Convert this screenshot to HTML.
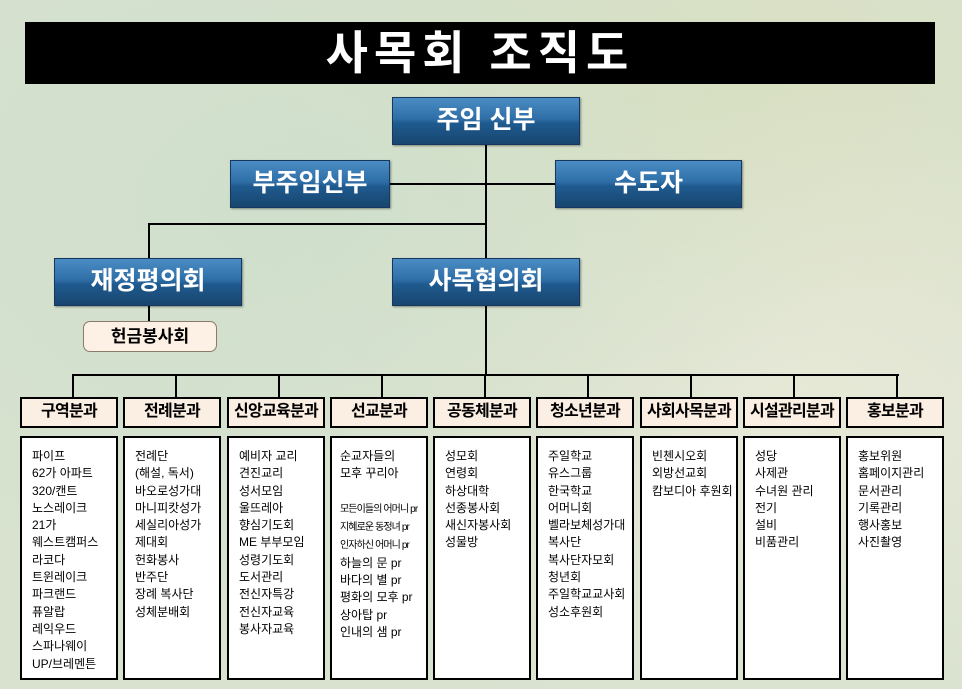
<!DOCTYPE html>
<html><head><meta charset="utf-8"><style>
*{margin:0;padding:0;box-sizing:border-box}
body{width:962px;height:689px;overflow:hidden;position:relative;font-family:"Liberation Sans","Noto Sans CJK KR","NanumGothic",sans-serif;
background:radial-gradient(ellipse at 30% 30%,#cfdfcc 0%,transparent 60%),radial-gradient(ellipse at 80% 60%,#e8e9d8 0%,transparent 55%),radial-gradient(ellipse at 70% 20%,#dadfbf 0%,transparent 50%),#d8e2cf;}
.title{position:absolute;left:25px;top:22px;width:910px;height:62px;background:#000;color:#fff;font-size:46px;font-weight:bold;text-align:center;line-height:62px;letter-spacing:6px}
.bb{position:absolute;height:48px;border:1.5px solid #17375e;background:linear-gradient(to bottom,#4a8cc4 0%,#2f6fa8 45%,#1f5a8f 55%,#17466f 100%);color:#fff;font-weight:bold;font-size:25px;text-align:center;line-height:45px;box-shadow:1px 1px 2px rgba(0,0,0,.4)}
.ln{position:absolute;background:#000}
.hd{position:absolute;top:397px;width:98px;height:31px;border:2.5px solid #000;background:#fbeee2;font-weight:bold;font-size:16px;text-align:center;line-height:26px;white-space:nowrap;letter-spacing:-0.7px;overflow:hidden}
.bx{position:absolute;top:436px;width:98px;height:244px;border:2px solid #000;background:#fff;font-size:12px;line-height:17.3px;padding:10px 0 0 10px;white-space:nowrap;overflow:hidden}
.sm{font-size:10px;letter-spacing:-0.9px}
</style></head><body>
<div class="title">사목회 조직도</div>
<div class="ln" style="left:485px;top:145px;width:2px;height:113px"></div>
<div class="ln" style="left:390px;top:183px;width:165px;height:2px"></div>
<div class="ln" style="left:148px;top:223px;width:339px;height:2px"></div>
<div class="ln" style="left:148px;top:223px;width:2px;height:35px"></div>
<div class="ln" style="left:148px;top:306px;width:2px;height:15px"></div>
<div class="ln" style="left:485px;top:306px;width:2px;height:70px"></div>
<div class="ln" style="left:72px;top:374px;width:827px;height:2px"></div>
<div class="bb" style="left:392px;top:97px;width:188px">주임 신부</div>
<div class="bb" style="left:230px;top:160px;width:160px">부주임신부</div>
<div class="bb" style="left:555px;top:160px;width:187px">수도자</div>
<div class="bb" style="left:54px;top:258px;width:188px">재정평의회</div>
<div class="bb" style="left:392px;top:258px;width:188px">사목협의회</div>
<div style="position:absolute;left:83px;top:321px;width:134px;height:31px;border:1px solid #8a7a6a;border-radius:7px;background:#fdf0e4;font-weight:bold;font-size:17px;text-align:center;line-height:29px">헌금봉사회</div>

<div class="ln" style="left:72px;top:374px;width:2px;height:23px"></div>
<div class="ln" style="left:175px;top:374px;width:2px;height:23px"></div>
<div class="ln" style="left:278px;top:374px;width:2px;height:23px"></div>
<div class="ln" style="left:381px;top:374px;width:2px;height:23px"></div>
<div class="ln" style="left:484px;top:374px;width:2px;height:23px"></div>
<div class="ln" style="left:587px;top:374px;width:2px;height:23px"></div>
<div class="ln" style="left:690px;top:374px;width:2px;height:23px"></div>
<div class="ln" style="left:793px;top:374px;width:2px;height:23px"></div>
<div class="ln" style="left:896px;top:374px;width:2px;height:23px"></div>

<div class="hd" style="left:20px">구역분과</div>
<div class="hd" style="left:123px">전례분과</div>
<div class="hd" style="left:227px">신앙교육분과</div>
<div class="hd" style="left:330px">선교분과</div>
<div class="hd" style="left:433px">공동체분과</div>
<div class="hd" style="left:536px">청소년분과</div>
<div class="hd" style="left:640px">사회사목분과</div>
<div class="hd" style="left:743px">시설관리분과</div>
<div class="hd" style="left:846px">홍보분과</div>

<div class="bx" style="left:20px">파이프<br>62가 아파트<br>320/캔트<br>노스레이크<br>21가<br>웨스트캠퍼스<br>라코다<br>트윈레이크<br>파크랜드<br>퓨알랍<br>레익우드<br>스파나웨이<br>UP/브레멘튼</div>
<div class="bx" style="left:123px">전례단<br>(해설, 독서)<br>바오로성가대<br>마니피캇성가<br>세실리아성가<br>제대회<br>헌화봉사<br>반주단<br>장례 복사단<br>성체분배회</div>
<div class="bx" style="left:227px">예비자 교리<br>견진교리<br>성서모임<br>울뜨레아<br>향심기도회<br>ME 부부모임<br>성령기도회<br>도서관리<br>전신자특강<br>전신자교육<br>봉사자교육</div>
<div class="bx" style="left:330px;padding-left:8px">순교자들의<br>모후 꾸리아<br><br><span class="sm">모든이들의 어머니 pr<br>지혜로운 동정녀 pr<br>인자하신 어머니 pr</span><br>하늘의 문 pr<br>바다의 별 pr<br>평화의 모후 pr<br>상아탑 pr<br>인내의 샘 pr</div>
<div class="bx" style="left:433px">성모회<br>연령회<br>하상대학<br>선종봉사회<br>새신자봉사회<br>성물방</div>
<div class="bx" style="left:536px">주일학교<br>유스그룹<br>한국학교<br>어머니회<br>벨라보체성가대<br>복사단<br>복사단자모회<br>청년회<br>주일학교교사회<br>성소후원회</div>
<div class="bx" style="left:640px">빈첸시오회<br>외방선교회<br>캄보디아 후원회</div>
<div class="bx" style="left:743px">성당<br>사제관<br>수녀원 관리<br>전기<br>설비<br>비품관리</div>
<div class="bx" style="left:846px">홍보위원<br>홈페이지관리<br>문서관리<br>기록관리<br>행사홍보<br>사진촬영</div>
</body></html>
